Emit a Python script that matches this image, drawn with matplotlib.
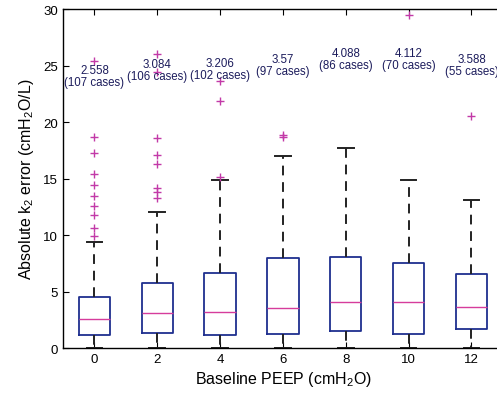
import matplotlib
matplotlib.use('Agg')
import matplotlib.pyplot as plt
import numpy as np

plt.rcParams['font.family'] = ['Liberation Sans', 'DejaVu Sans']
plt.rcParams['mathtext.fontset'] = 'custom'
plt.rcParams['mathtext.rm'] = 'Liberation Sans'
plt.rcParams['mathtext.it'] = 'Liberation Sans'
plt.rcParams['mathtext.default'] = 'regular'

peep = [0, 2, 4, 6, 8, 10, 12]
medians = [2.558, 3.084, 3.206, 3.57, 4.088, 4.112, 3.588]
cases = [107, 106, 102, 97, 86, 70, 55]
q1 = [1.12, 1.36, 1.12, 1.24, 1.47, 1.27, 1.68]
q3 = [4.54, 5.75, 6.64, 7.96, 8.05, 7.52, 6.52]
whis_lo = [0, 0, 0, 0, 0, 0, 0]
whis_hi = [9.35, 12.0, 14.9, 17.0, 17.7, 14.9, 13.1]
outliers = [
    [25.4, 18.7, 17.26, 15.4, 14.45, 13.48, 12.6, 11.8, 10.6, 9.94],
    [26.0, 24.4, 18.6, 17.1, 16.3, 14.2, 13.8, 13.3],
    [23.65, 21.9, 15.1],
    [18.9, 18.65],
    [],
    [29.5],
    [20.5],
]

stats = []
for i in range(len(peep)):
    stats.append({'med': medians[i], 'q1': q1[i], 'q3': q3[i],
                  'whislo': whis_lo[i], 'whishi': whis_hi[i],
                  'fliers': outliers[i]})

fig = plt.figure(figsize=(4.97, 4.02), dpi=100)
ax = fig.add_axes([0.1268, 0.1318, 0.885, 0.843])

ax.bxp(stats, positions=peep, widths=1.0, showfliers=True,
       boxprops=dict(color='#1f2f8f', linewidth=1.3),
       medianprops=dict(color='#d63c9c', linewidth=1.0),
       whiskerprops=dict(color='#222222', linewidth=1.4, linestyle=(0, (5, 3.5))),
       capprops=dict(color='#222222', linewidth=1.4),
       flierprops=dict(marker='+', markeredgecolor='#c23aa8', markersize=6,
                       markeredgewidth=1.0, linestyle='none'))

for x, m, n in zip(peep, medians, cases):
    ax.text(x, m + 21.5, '%s\n(%d cases)' % (m, n), ha='center', va='center',
            fontsize=8.3, color='#1c1c5c', linespacing=1.0, clip_on=False)

ax.set_xlim(-1, 13)
ax.set_ylim(0, 30)
ax.set_xticks(peep)
ax.set_xticklabels([str(p) for p in peep])
ax.set_yticks(np.arange(0, 31, 5))
ax.tick_params(direction='in', top=True, right=False, labelsize=9.5, length=4)
for s in ax.spines.values():
    s.set_linewidth(1.0)
ax.spines['right'].set_visible(False)

ax.set_xlabel('Baseline PEEP (cmH$_2$O)', fontsize=11.5, labelpad=3)
ax.set_ylabel('Absolute k$_2$ error (cmH$_2$O/L)', fontsize=11.5, labelpad=5)

fig.savefig('out.png', dpi=100)
